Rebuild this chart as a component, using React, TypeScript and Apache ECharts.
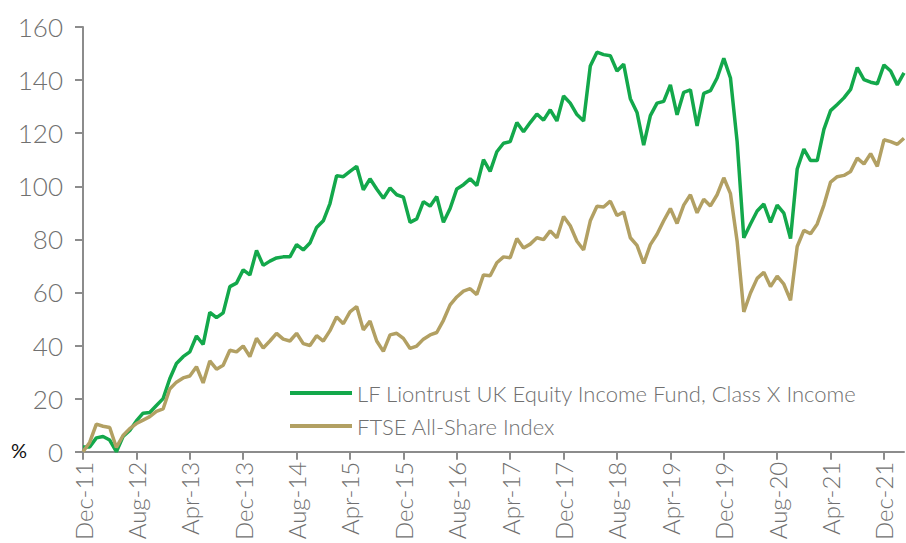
import React, { useEffect, useRef } from "react";
import * as echarts from "echarts";

const monthNames = ["Jan", "Feb", "Mar", "Apr", "May", "Jun", "Jul", "Aug", "Sep", "Oct", "Nov", "Dec"];
const categories: string[] = [];
for (let k = 0; k < 124; k++) {
  const m = (11 + k) % 12;
  const y = 11 + Math.floor((11 + k) / 12);
  categories.push(`${monthNames[m]}-${y}`);
}

const fundName = "LF Liontrust UK Equity Income Fund, Class X Income";
const indexName = "FTSE All-Share Index";

const fundValues = [
  1.8, 1.8, 5.2, 5.7, 4.4, 0, 5.7, 8, 11.6, 14.5, 14.8, 17.4, 20, 27.5, 33.2, 35.8, 37.6, 43.6, 40.4, 52.5,
  50.5, 52.3, 62.2, 63.5, 68.5, 66.6, 75.8, 70.2, 71.8, 73, 73.4, 73.4, 78, 76, 78.6, 84.5, 87, 93.5, 104, 103.6,
  105.6, 107.5, 98.7, 102.8, 99, 95.5, 99.4, 96.8, 95.9, 86.4, 87.7, 94.2, 92.5, 96.1, 86.4, 91.6, 99, 100.6, 102.8, 100.3,
  110, 105.6, 113, 116.2, 116.8, 124, 120.5, 124, 127.2, 124.9, 128.8, 124.6, 134, 131.3, 127, 124.6, 145.3, 150.5, 149.6, 149.2,
  143.4, 146, 133, 127.8, 115.5, 126.6, 131.3, 132, 138.2, 126.9, 135.4, 136.3, 122.7, 135, 136, 140.8, 148.2, 140.8, 116.8, 80.6,
  85.8, 90.7, 93.3, 86.4, 92.9, 89.9, 80.3, 106.5, 114, 109.7, 109.7, 121.4, 128.5, 130.8, 133.3, 136.5, 144.7, 140.2, 139.2, 138.6,
  145.7, 143.4, 138.2, 142.7,
];

const indexValues = [
  0, 3.5, 10.4, 9.6, 9.1, 1.6, 6.1, 8.7, 10.6, 11.9, 13.2, 15.2, 16.1, 23.6, 26.2, 27.8, 28.5, 32, 25.9, 34.2,
  31.1, 32.6, 38.2, 37.6, 39.8, 35.8, 42.7, 39.1, 41.7, 44.6, 42.4, 41.7, 44.6, 40.7, 40, 43.7, 41.7, 45.6, 50.8, 48.2,
  52.7, 54.7, 45.9, 49.2, 41.7, 37.8, 44, 44.6, 42.7, 38.9, 39.8, 42.4, 44, 44.9, 49.5, 55.3, 58.3, 60.5, 61.4, 59.2,
  66.6, 66.3, 71.2, 73.4, 73.1, 80.3, 76.7, 78.2, 80.6, 79.9, 83.2, 80.6, 88.6, 85.1, 79.3, 76, 87, 92.5, 92.2, 94.4,
  89, 90.3, 80.6, 77.7, 70.9, 78, 81.9, 87, 91.6, 86, 92.9, 96.8, 90, 95.1, 92.6, 96.8, 103.2, 97.2, 79.3, 52.7,
  59.8, 65.3, 67.6, 62.2, 66.1, 63.1, 57, 77.3, 83.4, 82.1, 85.8, 92.9, 101.6, 103.6, 104.1, 105.6, 110.6, 108.4, 112.3, 107.5,
  117.5, 116.8, 115.8, 118.1,
];

const yMin = 0;
const yMax = 160;
const yInterval = 20;

const GREEN = "#13a84b";
const TAN = "#b2a063";
const AXIS = "#8c8c8c";
const TEXT = "#707070";
const FONT = "Lato, 'Open Sans', sans-serif";

export default function App() {
  const ref = useRef<HTMLDivElement>(null);
  useEffect(() => {
    if (!ref.current) return;
    const chart = echarts.init(ref.current, null, { renderer: "svg" });
    chart.setOption({
      animation: false,
      grid: { left: 83, right: 2, top: 27, bottom: 88 },
      legend: {
        orient: "vertical",
        left: 285,
        top: 377,
        itemWidth: 62,
        itemHeight: 4,
        itemGap: 11,
        icon: "rect",
        textStyle: { color: TEXT, fontSize: 22, fontFamily: FONT, fontWeight: 300 },
        data: [fundName, indexName],
      },
      graphic: [
        {
          type: "text",
          left: 11,
          top: 440,
          style: { text: "%", fill: "#111", fontSize: 20, fontFamily: FONT },
        },
      ],
      xAxis: {
        type: "category",
        data: categories,
        boundaryGap: false,
        axisLine: { lineStyle: { color: AXIS, width: 2 } },
        axisTick: { interval: 7, length: 8, lineStyle: { color: AXIS, width: 2 } },
        axisLabel: {
          interval: 7,
          rotate: 90,
          margin: 10,
          color: TEXT,
          fontSize: 24,
          fontFamily: FONT,
          fontWeight: 300,
        },
        splitLine: { show: false },
      },
      yAxis: {
        type: "value",
        min: yMin,
        max: yMax,
        interval: yInterval,
        axisLine: { show: true, lineStyle: { color: AXIS, width: 2 } },
        axisTick: { show: true, length: 8, lineStyle: { color: AXIS, width: 2 } },
        axisLabel: { color: TEXT, fontSize: 26, fontFamily: FONT, fontWeight: 300, margin: 20 },
        splitLine: { show: false },
      },
      series: [
        {
          name: fundName,
          type: "line",
          data: fundValues,
          symbol: "none",
          lineStyle: { color: GREEN, width: 3.5 },
          itemStyle: { color: GREEN },
        },
        {
          name: indexName,
          type: "line",
          data: indexValues,
          symbol: "none",
          lineStyle: { color: TAN, width: 3.5 },
          itemStyle: { color: TAN },
        },
      ],
    });
    return () => chart.dispose();
  }, []);
  return <div ref={ref} style={{ width: 906, height: 543, position: "absolute", left: 0, top: 0 }} />;
}
